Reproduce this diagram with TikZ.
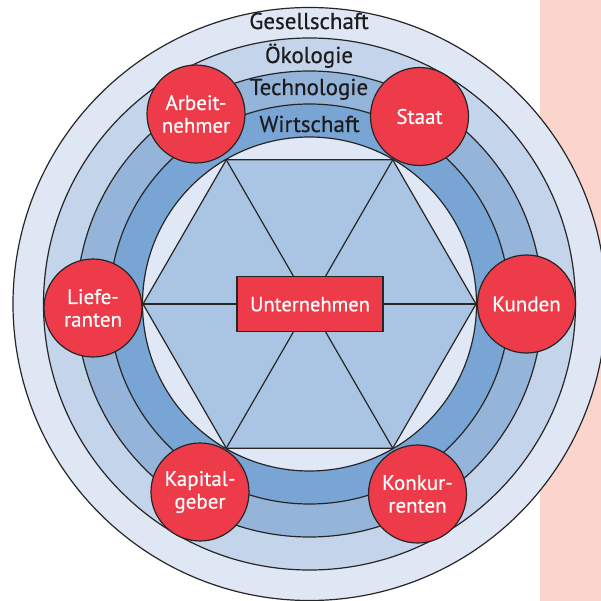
\documentclass[tikz,border=0pt]{standalone}
\usepackage{fontspec}
\setmainfont{PT Sans}[BoldFont={PT Sans}, BoldFeatures={FakeBold=0.5}]
\usetikzlibrary{calc}

\definecolor{ringA}{HTML}{DFE6F4}
\definecolor{ringB}{HTML}{C4D4EA}
\definecolor{ringC}{HTML}{95B4DA}
\definecolor{ringD}{HTML}{79A5D4}
\definecolor{core}{HTML}{E0E8F5}
\definecolor{hexfill}{HTML}{AAC4E3}
\definecolor{redfill}{HTML}{EE3B49}
\definecolor{sidebar}{HTML}{FBD5CC}
\definecolor{ink}{HTML}{262626}
\definecolor{labelink}{HTML}{1C1C1C}

\tikzset{
  outline/.style={draw=ink, line width=1.2pt},
  ringlabel/.style={anchor=base, text=labelink, inner sep=0pt,
    font=\fontsize{23}{26}\bfseries},
  actor/.style={circle, outline, fill=redfill, minimum size=98pt, inner sep=0pt,
    text=white, align=center, font=\fontsize{21}{22.7}\bfseries},
  centerbox/.style={rectangle, outline, fill=redfill, minimum width=146pt,
    minimum height=55pt, inner sep=0pt, text=white,
    font=\fontsize{20.5}{22}\bfseries},
  spoke/.style={draw=ink, line width=1.2pt}
}

\begin{document}
\begin{tikzpicture}[x=1pt, y=-1pt]
  \useasboundingbox (0,0) rectangle (601,601);

  % side bar
  \fill[sidebar] (540,0) rectangle (601,601);

  % concentric rings
  \coordinate (c) at (309.5,304);
  \filldraw[outline, fill=ringA] (c) circle (296.5pt);
  \filldraw[outline, fill=ringB] (c) circle (266pt);
  \filldraw[outline, fill=ringC] (c) circle (233pt);
  \filldraw[outline, fill=ringD] (c) circle (200pt);
  \filldraw[outline, fill=core]  (c) circle (167pt);

  % hexagon corners
  \coordinate (h0)   at (476,304);
  \coordinate (h60)  at (392.75,159.8);
  \coordinate (h120) at (226.25,159.8);
  \coordinate (h180) at (143,304);
  \coordinate (h240) at (226.25,448.2);
  \coordinate (h300) at (392.75,448.2);

  \filldraw[outline, fill=hexfill, line join=round]
    (h0) -- (h60) -- (h120) -- (h180) -- (h240) -- (h300) -- cycle;
  \foreach \v in {h0,h60,h120,h180,h240,h300}
    \draw[spoke] (c) -- (\v);

  % centre
  \node[centerbox] (u) at (310,304.2) {Unternehmen};

  % ring labels
  \node[ringlabel] (l1) at (309,29)  {Gesellschaft};
  \node[ringlabel] (l2) at (309,63)  {Ökologie};
  \node[ringlabel] (l3) at (309,95)  {Technologie};
  \node[ringlabel] (l4) at (309.5,132) {Wirtschaft};

  % stakeholders
  \node[actor] (an) at (196,114)    {Arbeit-\\nehmer};
  \node[actor] (st) at (419.5,116.5) {Staat};
  \node[actor] (li) at (93,308)     {Liefe-\\ranten};
  \node[actor] (ku) at (526.5,304)  {Kunden};
  \node[actor] (ka) at (200,492)    {Kapital-\\geber};
  \node[actor] (ko) at (417.5,494)  {Konkur-\\renten};
\end{tikzpicture}
\end{document}
